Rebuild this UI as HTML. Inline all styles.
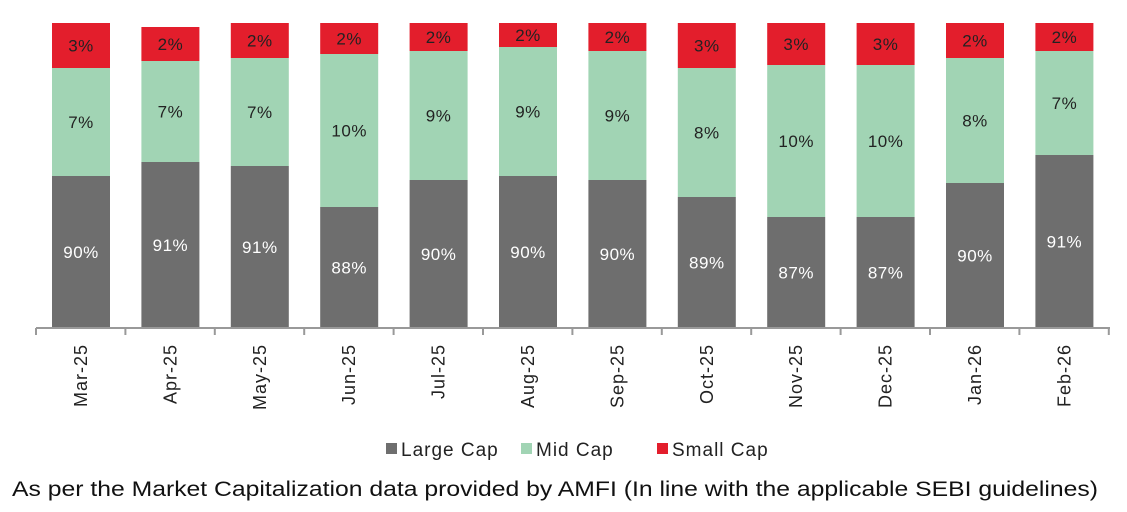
<!DOCTYPE html>
<html><head><meta charset="utf-8"><style>
body{margin:0;background:#fff;}
svg{display:block;font-family:"Liberation Sans",sans-serif;}
.l{fill:#6e6e6e}.m{fill:#a1d4b4}.s{fill:#e31e2c}
.w{fill:#fff;font-size:17px;text-anchor:middle;letter-spacing:0.5px}
.k{fill:#222;font-size:17px;text-anchor:middle;letter-spacing:0.5px}
.x{fill:#222;font-size:18px;text-anchor:end;letter-spacing:1px}
.g{font-size:19px;fill:#222;letter-spacing:1px}
</style></head><body>
<svg width="1127" height="512" viewBox="0 0 1127 512">
<rect class="l" x="52" y="176" width="58" height="152"/><rect class="m" x="52" y="68" width="58" height="108"/><rect class="s" x="52" y="23" width="58" height="45"/>
<text class="w" x="81" y="258">90%</text><text class="k" x="81" y="128">7%</text><text class="k" x="81" y="51.5">3%</text>
<text class="x" transform="translate(87,344) rotate(-90)">Mar-25</text>
<rect class="l" x="141.4" y="162" width="58" height="166"/><rect class="m" x="141.4" y="61" width="58" height="101"/><rect class="s" x="141.4" y="27" width="58" height="34"/>
<text class="w" x="170.4" y="251">91%</text><text class="k" x="170.4" y="117.5">7%</text><text class="k" x="170.4" y="50">2%</text>
<text class="x" transform="translate(176.4,344) rotate(-90)">Apr-25</text>
<rect class="l" x="230.8" y="166" width="58" height="162"/><rect class="m" x="230.8" y="58" width="58" height="108"/><rect class="s" x="230.8" y="23" width="58" height="35"/>
<text class="w" x="259.8" y="253">91%</text><text class="k" x="259.8" y="118">7%</text><text class="k" x="259.8" y="46.5">2%</text>
<text class="x" transform="translate(265.8,344) rotate(-90)">May-25</text>
<rect class="l" x="320.2" y="207" width="58" height="121"/><rect class="m" x="320.2" y="54" width="58" height="153"/><rect class="s" x="320.2" y="23" width="58" height="31"/>
<text class="w" x="349.2" y="273.5">88%</text><text class="k" x="349.2" y="136.5">10%</text><text class="k" x="349.2" y="44.5">2%</text>
<text class="x" transform="translate(355.2,344) rotate(-90)">Jun-25</text>
<rect class="l" x="409.6" y="180" width="58" height="148"/><rect class="m" x="409.6" y="51" width="58" height="129"/><rect class="s" x="409.6" y="23" width="58" height="28"/>
<text class="w" x="438.6" y="260">90%</text><text class="k" x="438.6" y="121.5">9%</text><text class="k" x="438.6" y="43">2%</text>
<text class="x" transform="translate(444.6,344) rotate(-90)">Jul-25</text>
<rect class="l" x="499" y="176" width="58" height="152"/><rect class="m" x="499" y="47" width="58" height="129"/><rect class="s" x="499" y="23" width="58" height="24"/>
<text class="w" x="528" y="258">90%</text><text class="k" x="528" y="117.5">9%</text><text class="k" x="528" y="41">2%</text>
<text class="x" transform="translate(534,344) rotate(-90)">Aug-25</text>
<rect class="l" x="588.4" y="180" width="58" height="148"/><rect class="m" x="588.4" y="51" width="58" height="129"/><rect class="s" x="588.4" y="23" width="58" height="28"/>
<text class="w" x="617.4" y="260">90%</text><text class="k" x="617.4" y="121.5">9%</text><text class="k" x="617.4" y="43">2%</text>
<text class="x" transform="translate(623.4,344) rotate(-90)">Sep-25</text>
<rect class="l" x="677.8" y="197" width="58" height="131"/><rect class="m" x="677.8" y="68" width="58" height="129"/><rect class="s" x="677.8" y="23" width="58" height="45"/>
<text class="w" x="706.8" y="268.5">89%</text><text class="k" x="706.8" y="138.5">8%</text><text class="k" x="706.8" y="51.5">3%</text>
<text class="x" transform="translate(712.8,344) rotate(-90)">Oct-25</text>
<rect class="l" x="767.2" y="217" width="58" height="111"/><rect class="m" x="767.2" y="65" width="58" height="152"/><rect class="s" x="767.2" y="23" width="58" height="42"/>
<text class="w" x="796.2" y="278.5">87%</text><text class="k" x="796.2" y="147">10%</text><text class="k" x="796.2" y="50">3%</text>
<text class="x" transform="translate(802.2,344) rotate(-90)">Nov-25</text>
<rect class="l" x="856.6" y="217" width="58" height="111"/><rect class="m" x="856.6" y="65" width="58" height="152"/><rect class="s" x="856.6" y="23" width="58" height="42"/>
<text class="w" x="885.6" y="278.5">87%</text><text class="k" x="885.6" y="147">10%</text><text class="k" x="885.6" y="50">3%</text>
<text class="x" transform="translate(891.6,344) rotate(-90)">Dec-25</text>
<rect class="l" x="946" y="183" width="58" height="145"/><rect class="m" x="946" y="58" width="58" height="125"/><rect class="s" x="946" y="23" width="58" height="35"/>
<text class="w" x="975" y="261.5">90%</text><text class="k" x="975" y="126.5">8%</text><text class="k" x="975" y="46.5">2%</text>
<text class="x" transform="translate(981,344) rotate(-90)">Jan-26</text>
<rect class="l" x="1035.4" y="155" width="58" height="173"/><rect class="m" x="1035.4" y="51" width="58" height="104"/><rect class="s" x="1035.4" y="23" width="58" height="28"/>
<text class="w" x="1064.4" y="247.5">91%</text><text class="k" x="1064.4" y="109">7%</text><text class="k" x="1064.4" y="43">2%</text>
<text class="x" transform="translate(1070.4,344) rotate(-90)">Feb-26</text>

<g stroke="#999" stroke-width="2">
<line x1="36" y1="328" x2="1110" y2="328"/>
<line x1="36" y1="328" x2="36" y2="335"/><line x1="125.4" y1="328" x2="125.4" y2="335"/>
<line x1="214.8" y1="328" x2="214.8" y2="335"/><line x1="304.2" y1="328" x2="304.2" y2="335"/>
<line x1="393.6" y1="328" x2="393.6" y2="335"/><line x1="483" y1="328" x2="483" y2="335"/>
<line x1="572.4" y1="328" x2="572.4" y2="335"/><line x1="661.8" y1="328" x2="661.8" y2="335"/>
<line x1="751.2" y1="328" x2="751.2" y2="335"/><line x1="840.6" y1="328" x2="840.6" y2="335"/>
<line x1="930" y1="328" x2="930" y2="335"/><line x1="1019.4" y1="328" x2="1019.4" y2="335"/>
<line x1="1108.8" y1="328" x2="1108.8" y2="335"/>
</g>

<rect x="386" y="443" width="11" height="11" fill="#6e6e6e"/>
<text class="g" x="401" y="456">Large Cap</text>
<rect x="521" y="443" width="11" height="11" fill="#a1d4b4"/>
<text class="g" x="536" y="456">Mid Cap</text>
<rect x="657" y="443" width="11" height="11" fill="#e31e2c"/>
<text class="g" x="672" y="456">Small Cap</text>
<text x="12" y="496" font-size="21" fill="#111" textLength="1086" lengthAdjust="spacingAndGlyphs">As per the Market Capitalization data provided by AMFI (In line with the applicable SEBI guidelines)</text>
</svg>
</body></html>
